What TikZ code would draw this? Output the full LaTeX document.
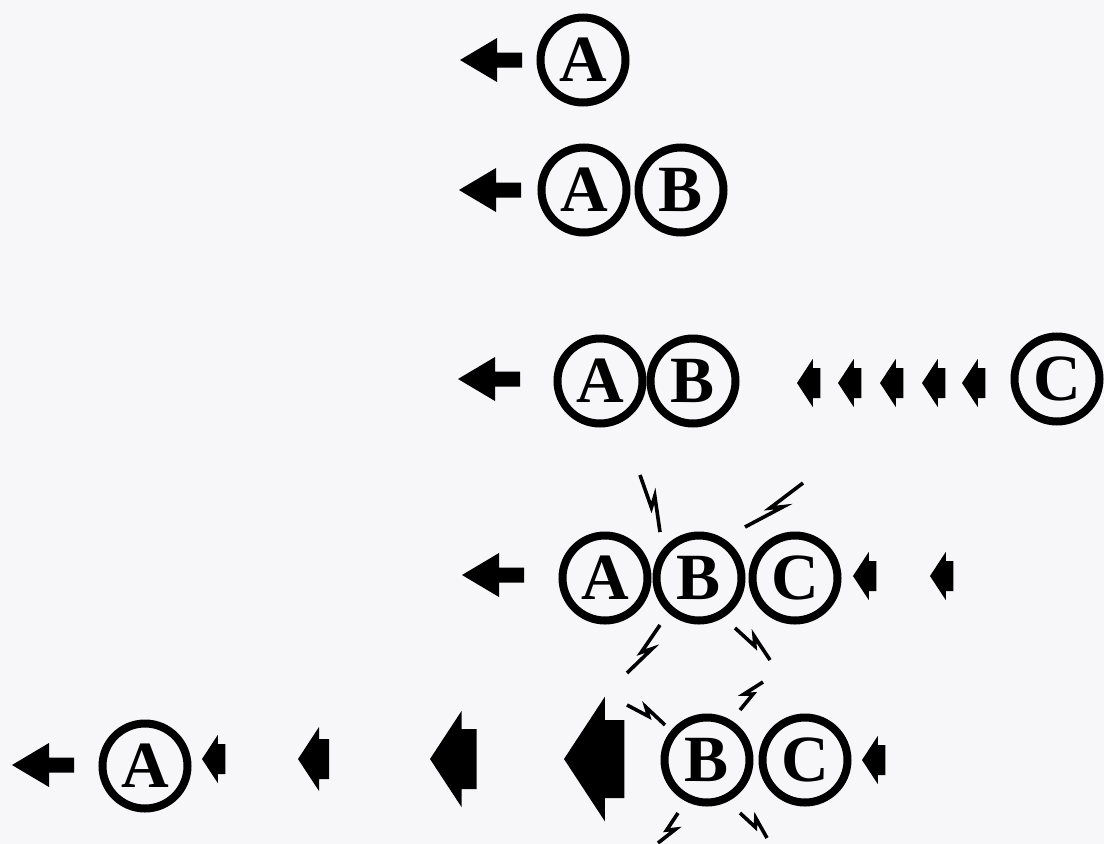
\documentclass[tikz,border=0pt]{standalone}
\usepackage{fontspec}
\setmainfont{Liberation Serif}
\usetikzlibrary{calc}

\definecolor{paper}{RGB}{247,247,249}

% lightning bolt between two points
\newcommand{\zap}[2]{%
    \draw [zapline] #1 -- ($#1!0.57!#2$) -- ($#1!0.41!#2!7pt!90:#2$) -- #2;}

\begin{document}
\begin{tikzpicture}[%
            x=1pt, y=-1pt,
            ball/.style={shape=circle,draw,line width=8pt,minimum size=85pt,inner sep=0pt,
                font=\fontsize{66}{66}\selectfont\bfseries},
            zapline/.style={line width=3.6pt,line join=miter},
            fatarrow/.pic={\fill (0,0) -- (37,-22) -- (37,-7.5) -- (62,-7.5)
                -- (62,7.5) -- (37,7.5) -- (37,22) -- cycle;},
            thrust/.pic={\fill (0,0) -- (21,-32) -- (21,-20) -- (31,-20)
                -- (31,20) -- (21,20) -- (21,32) -- cycle;}
    ]
        \fill [paper] (0,0) rectangle (1104,844);
        \useasboundingbox (0,0) rectangle (1104,844);

        % row 1
        \pic at (460,60) {fatarrow};
        \node [ball] (a1) at (583,60) {A};

        % row 2
        \pic at (459,190) {fatarrow};
        \node [ball] (a2) at (584,190) {A};
        \node [ball] (b2) at (681,190) {B};

        % row 3
        \pic at (458,379) {fatarrow};
        \node [ball] (a3) at (600,381) {A};
        \node [ball] (b3) at (693,381) {B};
        \foreach \x in {797,838,880,922,962}
            \pic [scale=0.75] at (\x,383) {thrust};
        \node [ball] (c3) at (1057,379) {C};

        % row 4
        \pic at (462,575) {fatarrow};
        \node [ball] (a4) at (605,578) {A};
        \node [ball] (b4) at (699,578) {B};
        \node [ball] (c4) at (795,578) {C};
        \pic [scale=0.75] at (853,576) {thrust};
        \pic [scale=0.75] at (930,576) {thrust};
        \zap{(640,475)}{(660,532)}
        \zap{(803,483)}{(745,527)}
        \zap{(660,625)}{(627,673)}
        \zap{(735,628)}{(770,660)}

        % row 5
        \pic at (12,765) {fatarrow};
        \node [ball] (a5) at (145,766) {A};
        \pic [scale=0.75] at (202,759) {thrust};
        \pic at (298,759) {thrust};
        \pic [scale=1.5] at (430,759) {thrust};
        \pic [scale=1.95] at (564,759) {thrust};
        \node [ball] (b5) at (707,760) {B};
        \node [ball] (c5) at (805,760) {C};
        \pic [scale=0.75] at (862,760) {thrust};
        \zap{(627,705)}{(665,725)}
        \zap{(740,710)}{(763,682)}
        \zap{(678,813)}{(658,843)}
        \zap{(740,813)}{(767,838)}
\end{tikzpicture}
\end{document}
